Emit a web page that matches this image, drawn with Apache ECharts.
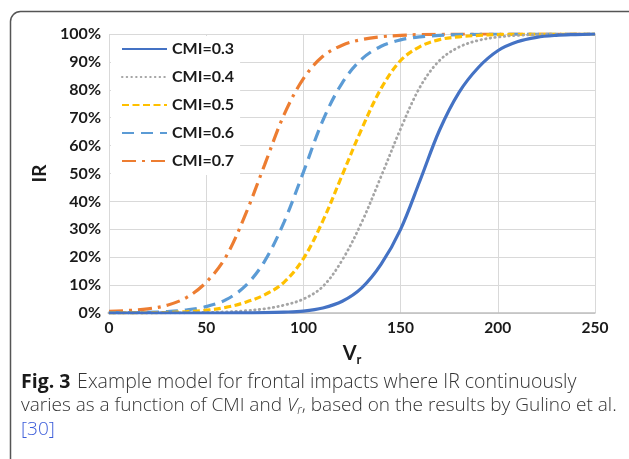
<!DOCTYPE html>
<html>
<head>
<meta charset="utf-8">
<script src="https://cdn.jsdelivr.net/npm/echarts@6/dist/echarts.min.js"></script>
<style>
html,body{margin:0;padding:0;background:#fff;}
#chart{width:629px;height:459px;}
</style>
</head>
<body>
<div id="chart"></div>
<script>
// Data
var vr = [0,10,20,30,40,50,60,70,80,90,100,110,120,130,140,150,160,170,180,190,200,210,220,230,240,250];
var seriesNames = ['CMI=0.3','CMI=0.4','CMI=0.5','CMI=0.6','CMI=0.7'];
var cmi03 = [0,0,0,0,0,0,0,0.05,0.1,0.3,0.7,1.8,4.2,9,17.5,30,47.5,65.5,79,88,94,97.2,98.8,99.5,99.8,100];
var cmi04 = [0,0,0,0.05,0.1,0.2,0.4,0.8,1.5,2.8,5,9.5,19,32.5,49,66,81,90.5,95.3,97.7,98.9,99.5,99.8,99.9,100,100];
var cmi05 = [0,0.05,0.1,0.2,0.5,1,2,3.8,6.5,11,19.5,33,49.5,66,80.5,90.5,95.5,98,99,99.5,99.8,99.9,100,100,100,100];
var cmi06 = [0.1,0.15,0.25,0.5,1.1,2.3,4.7,9.6,18.5,32.5,50.5,69,82.5,91,95.6,97.9,99,99.5,99.8,99.9,100,100,100,100,100,100];
var cmi07 = [0.6,0.9,1.5,2.8,5.6,11,20,35,53,71,84,92,96,98,99,99.5,99.8,99.9,100,100,100,100,100,100,100,100];
var xTicks = [0,50,100,150,200,250];
var yTicksPct = [0,10,20,30,40,50,60,70,80,90,100];

var allValues = [cmi03,cmi04,cmi05,cmi06,cmi07];
var colors = ['#4472C4','#A5A5A5','#FFC000','#5B9BD5','#ED7D31'];
var styles = [
  {width:3.2, type:'solid', cap:'butt'},
  {width:2.8, type:[0.5,4.2], cap:'round'},
  {width:3.2, type:[7,3.5], cap:'butt'},
  {width:3.2, type:[12,7], cap:'butt'},
  {width:3.2, type:[14,6,3,6], cap:'butt'}
];

function pairs(vals){ return vr.map(function(x,i){ return [x, vals[i]]; }); }

var series = seriesNames.map(function(n,i){
  return {
    name:n, type:'line', data:pairs(allValues[i]),
    smooth:0.35, showSymbol:false, symbol:'none',
    lineStyle:{color:colors[i], width:styles[i].width, type:styles[i].type, cap:styles[i].cap},
    itemStyle:{color:colors[i]},
    z: 2 + (4 - i)
  };
});

var chart = echarts.init(document.getElementById('chart'), null, {renderer:'canvas'});
var FONT = 'Lato';
chart.setOption({
  animation:false,
  backgroundColor:'#fff',
  grid:{left:109, right:34, top:34, bottom:146, containLabel:false},
  legend:{
    orient:'vertical', left:111, top:36,
    padding:[5,6,6,10],
    backgroundColor:'#ffffff',
    itemWidth:45, itemHeight:14, itemGap:12,
    data:seriesNames,
    itemStyle:{opacity:0, borderWidth:0},
    textStyle:{fontFamily:FONT, fontWeight:'bold', fontSize:16, color:'#1a1a1a'}
  },
  xAxis:{
    type:'value', min:0, max:250, interval:50,
    axisLine:{show:true, lineStyle:{color:'#bfbfbf', width:1.5}},
    axisTick:{show:false},
    splitLine:{show:true, lineStyle:{color:'#d9d9d9', width:1}},
    axisLabel:{fontFamily:FONT, fontWeight:'bold', fontSize:15.5, color:'#1a1a1a', margin:7},
    name:'{v|V}{s|r}', nameLocation:'middle', nameGap:28,
    nameTextStyle:{rich:{
      v:{fontFamily:FONT, fontWeight:'bold', fontSize:20, color:'#1a1a1a'},
      s:{fontFamily:FONT, fontWeight:'bold', fontSize:13, color:'#1a1a1a', padding:[12,0,0,0]}
    }}
  },
  yAxis:{
    type:'value', min:0, max:100, interval:10,
    axisLine:{show:false}, axisTick:{show:false},
    splitLine:{show:true, lineStyle:{color:'#d9d9d9', width:1}},
    axisLabel:{fontFamily:FONT, fontWeight:'bold', fontSize:16, color:'#1a1a1a', margin:8,
      formatter:function(v){ return v + '%'; }},
    name:'IR', nameLocation:'middle', nameRotate:90, nameGap:58,
    nameTextStyle:{fontFamily:FONT, fontWeight:'bold', fontSize:19, color:'#1a1a1a'}
  },
  series:series,
  graphic:[
    {type:'rect', silent:true, z:100,
     shape:{x:10.5, y:11.5, width:640, height:480, r:10},
     style:{fill:null, stroke:'#555555', lineWidth:1.5}},
    {type:'text', left:21, top:372, z:100,
     style:{
       text:'{b|Fig. 3}  {n|Example model for frontal impacts where IR continuously}',
       rich:{
         b:{fontFamily:'Open Sans', fontWeight:'bold', fontSize:19.5, fill:'#1a1a1a'},
         n:{fontFamily:'Open Sans', fontWeight:300, fontSize:19.5, fill:'#333333'}
       }
     }},
    {type:'text', left:21, top:396, z:100,
     style:{
       text:'{n|varies as a function of CMI and }{i|V}{s|r}{n|, based on the results by Gulino et al.}',
       rich:{
         n:{fontFamily:'Open Sans', fontWeight:300, fontSize:19, fill:'#333333'},
         i:{fontFamily:'Open Sans', fontStyle:'italic', fontWeight:300, fontSize:19, fill:'#333333'},
         s:{fontFamily:'Open Sans', fontStyle:'italic', fontWeight:300, fontSize:12, fill:'#333333', padding:[11,0,0,0]}
       }
     }},
    {type:'text', left:21, top:420, z:100,
     style:{text:'[30]', fontFamily:'Open Sans', fontWeight:300, fontSize:19, fill:'#3a5bd9'}}
  ]
});
</script>
</body>
</html>
